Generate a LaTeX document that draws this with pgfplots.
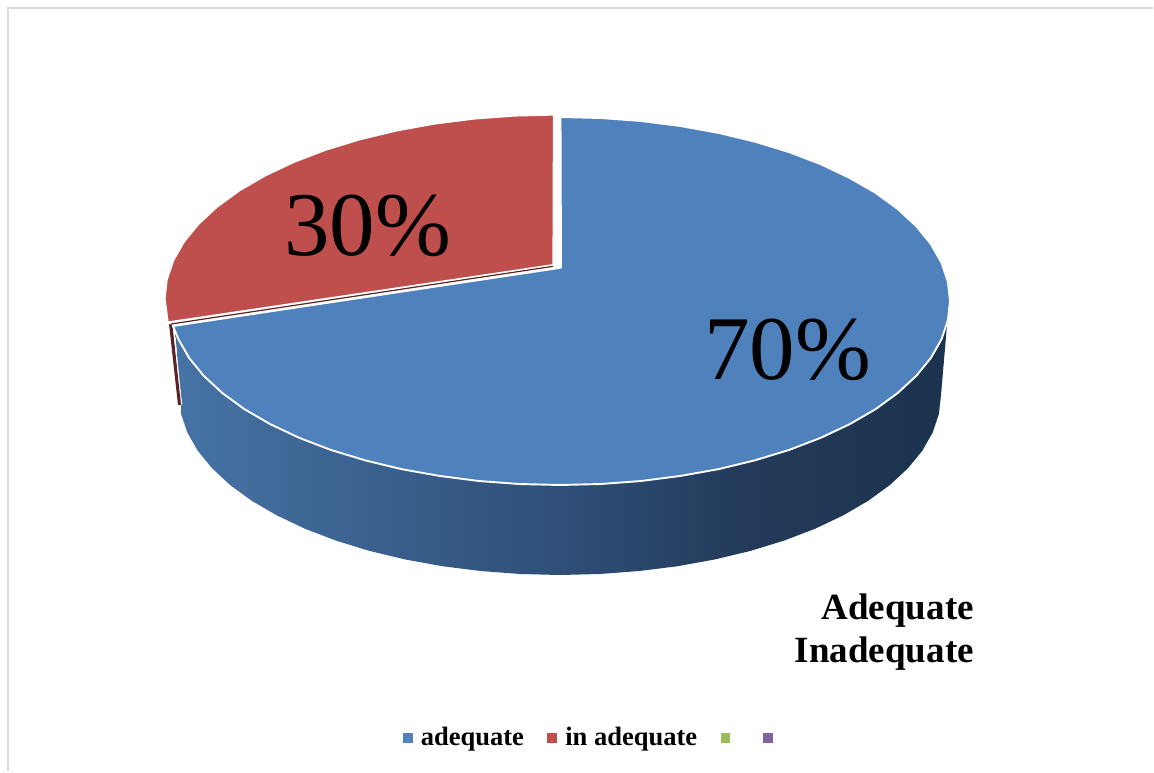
\documentclass[border=0pt]{standalone}
\usepackage{pgfplots}
\pgfplotsset{compat=1.18}
\usepackage{fontspec}
\setmainfont{Liberation Serif}

\definecolor{sliceblue}{HTML}{4F81BD}
\definecolor{slicered}{HTML}{BE4F4C}
\definecolor{sliceredrim}{HTML}{5A2422}
\definecolor{keygreen}{HTML}{9BBB59}
\definecolor{keypurple}{HTML}{8064A2}
\definecolor{framegray}{HTML}{DCDCDC}
\definecolor{rimA}{HTML}{4673A5}
\definecolor{rimB}{HTML}{2F4F78}
\definecolor{rimC}{HTML}{233A5A}
\definecolor{rimD}{HTML}{1C334E}

% Rim of the blue slice: lit on the left, dark on the right
\pgfdeclarehorizontalshading{rimshade}{100bp}{
  color(0bp)=(rimA);
  color(25bp)=(rimA);
  color(50bp)=(rimB);
  color(62bp)=(rimC);
  color(75bp)=(rimD);
  color(100bp)=(rimD)}

\begin{document}
\begin{tikzpicture}
\begin{axis}[
  scale only axis,
  width=1154pt, height=772pt,
  xmin=0, xmax=1154, ymin=0, ymax=772,
  y dir=reverse,
  axis lines=none,
  clip=false,
  legend columns=4,
  legend cell align=left,
  legend image code/.code={\fill[#1] (0pt,-4.25pt) rectangle (8.5pt,4.25pt);},
  legend style={
    at={(axis cs:403,737.5)}, anchor=west,
    draw=none, fill=none, inner sep=0pt, outer sep=0pt,
    font=\fontsize{26.5}{28}\selectfont\bfseries,
    nodes={inner sep=0pt, outer sep=0pt},
    /tikz/every odd column/.append style={column sep=9pt},
    /tikz/every even column/.append style={column sep=23.5pt},
  },
]

% The picture area
\path (axis cs:0,0) rectangle (axis cs:1154,772);

% Outer frame
\addplot[framegray, line width=2pt, forget plot] coordinates {(8,771) (8,8) (1153,8)};

% Rim of the blue slice
\addplot[draw=none, shading=rimshade, forget plot] coordinates {
  (947,325) (941,395) (938.9,413.8) (932.7,432.4) (922.4,450.6) (908,468.2)
  (889.9,485) (868.2,500.8) (843.1,515.4) (814.9,528.8) (784,540.6)
  (750.5,550.9) (715,559.4) (677.7,566.2) (639.2,571) (599.8,574) (560,575)
  (520.2,574) (480.8,571) (442.3,566.2) (405,559.4) (369.5,550.9) (336,540.6)
  (305.1,528.8) (276.9,515.4) (251.8,500.8) (230.1,485) (212,468.2)
  (197.6,450.6) (187.3,432.4) (181.1,413.8) (181,405) (175,328)
} -- cycle;

% Cut faces of the red slice
\addplot[fill=sliceredrim, draw=none, forget plot] coordinates {
  (169,324) (172.5,325) (181,405) (178,405)
} -- cycle;
\addplot[white, line width=0.8pt, forget plot] coordinates {(173.6,328) (181.8,405)};
\addplot[sliceredrim, line width=1.2pt, forget plot] coordinates {(171,324) (553,266.3)};

% Blue slice: 70
\addplot[fill=sliceblue, draw=white, line width=1.9pt, line join=round, forget plot] coordinates {
  (560.5,117) (600.8,118) (641.1,121) (680.5,126) (718.6,132.9) (755,141.7)
  (789.2,152.1) (821,164.3) (849.8,178) (875.5,192.8) (897.7,209) (916.3,226.2)
  (930.9,244.1) (941.5,262.7) (947.9,281.8) (950,301) (947.9,320.2) (941.5,339.3)
  (930.9,357.9) (916.3,375.8) (897.7,393) (875.5,409.2) (849.8,424.1) (821,437.7)
  (789.2,449.9) (755,460.3) (718.6,469.1) (680.5,475.9) (641.1,481) (600.8,484)
  (560,485) (519.2,484) (478.9,481) (439.5,475.9) (401.4,469.1) (365,460.3)
  (330.8,449.9) (299,437.7) (270.2,424.1) (244.5,409.2) (222.3,393) (203.7,375.8)
  (189.1,357.9) (178.5,339.3) (173,326) (561,267.7)
} -- cycle;

% Red slice: 30
\addplot[fill=slicered, draw=white, line width=1.2pt, line join=round, forget plot] coordinates {
  (553.5,115) (514.2,116) (473.9,119) (434.5,124) (396.4,130.9) (360,139.7)
  (325.8,150.1) (294,162.3) (265.2,175.9) (239.5,190.8) (217.3,207) (198.7,224.2)
  (184.1,242.1) (173.5,260.7) (167.1,279.8) (165,299) (166.5,310) (168,322)
  (553,264.7)
} -- cycle;

% Slice labels
\node[anchor=base west, inner sep=0pt, font=\fontsize{91}{91}\selectfont] at (axis cs:704,379) {70\%};
\node[anchor=base west, inner sep=0pt, font=\fontsize{91}{91}\selectfont] at (axis cs:284,255) {30\%};

% Category captions below the pie
\node[anchor=base east, inner sep=0pt, font=\fontsize{37}{37}\selectfont\bfseries] at (axis cs:974,619) {Adequate};
\node[anchor=base east, inner sep=0pt, font=\fontsize{37}{37}\selectfont\bfseries] at (axis cs:974,662) {Inadequate};

% Key
\addlegendimage{sliceblue}
\addlegendentry{adequate}
\addlegendimage{slicered}
\addlegendentry{in adequate}
\addlegendimage{keygreen}
\addlegendentry{\hspace{6pt}}
\addlegendimage{keypurple}
\addlegendentry{}
\end{axis}
\end{tikzpicture}
\end{document}
